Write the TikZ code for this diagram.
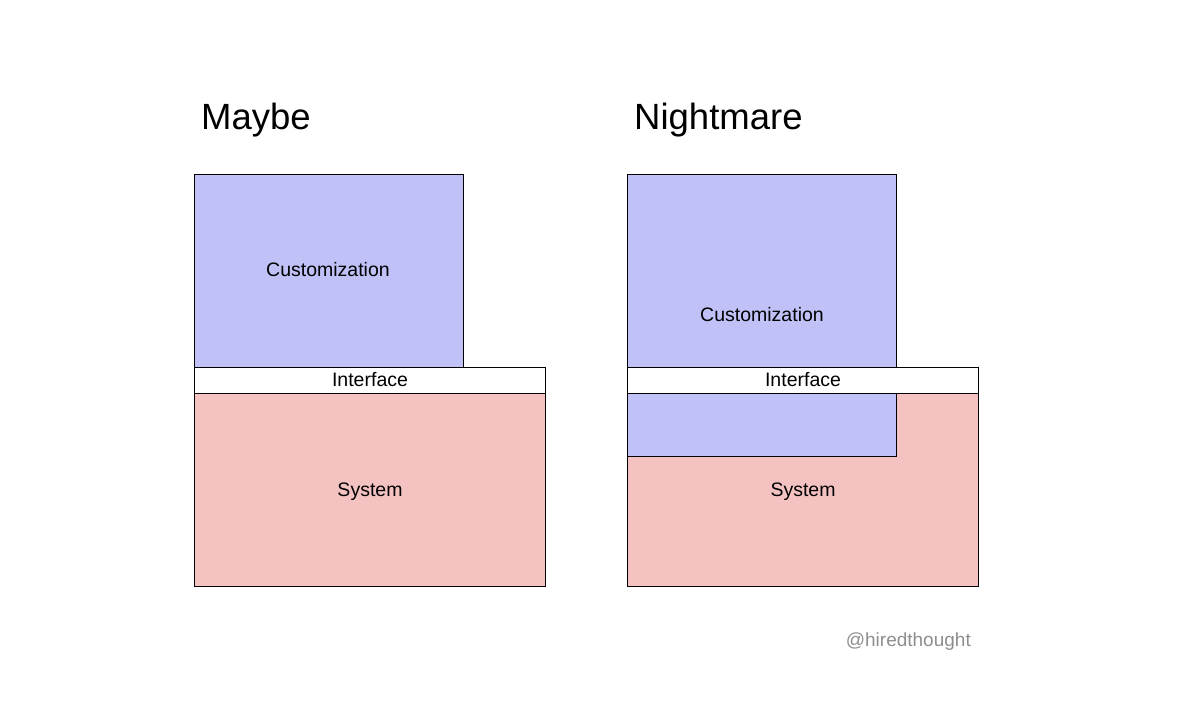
\documentclass[tikz,border=0pt]{standalone}
\usepackage{fontspec}
\setmainfont{Liberation Sans}
\definecolor{custblue}{HTML}{BFC1F7}
\definecolor{syspink}{HTML}{F5C2C2}
\definecolor{handle}{HTML}{8E8E8E}
\begin{document}
\begin{tikzpicture}[x=1pt,y=-1pt,
  box/.style={draw=black, line width=0.9pt, inner sep=0pt, outer sep=0pt, anchor=north west},
  label/.style={font=\fontsize{19.5}{22}\selectfont, text=black},
  title/.style={font=\fontsize{36.5}{42}\selectfont, anchor=base west, inner sep=0pt}]
\useasboundingbox (0,0) rectangle (1200,714);
\fill[white] (0,0) rectangle (1200,714);
% Titles
\node[title] (t1) at (201,130) {Maybe};
\node[title] (t2) at (634,130) {Nightmare};
% Left diagram
\node[box, fill=custblue, minimum width=269pt, minimum height=193pt] (c1) at (194,174) {};
\node[box, fill=syspink, minimum width=351pt, minimum height=193pt] (s1) at (194,393) {};
\node[box, fill=white, minimum width=351pt, minimum height=26pt] (i1) at (194,367) {};
\node[label] (c1l) at (328,270) {Customization};
\node[label] (i1l) at (370,380) {Interface};
\node[label] (s1l) at (370,492) {System};
% Right diagram
\node[box, fill=custblue, minimum width=269pt, minimum height=193pt] (c2) at (627,174) {};
\node[box, fill=syspink, minimum width=351pt, minimum height=193pt] (s2) at (627,393) {};
\node[box, fill=custblue, minimum width=269pt, minimum height=63pt] (c2b) at (627,393) {};
\node[box, fill=white, minimum width=351pt, minimum height=26pt] (i2) at (627,367) {};
\node[label] (c2l) at (762,315) {Customization};
\node[label] (i2l) at (803,380) {Interface};
\node[label] (s2l) at (803,492) {System};
% Handle
\node[font=\fontsize{19}{22}\selectfont, text=handle, anchor=base east, inner sep=0pt] (h) at (971,646) {@hiredthought};
\end{tikzpicture}
\end{document}
